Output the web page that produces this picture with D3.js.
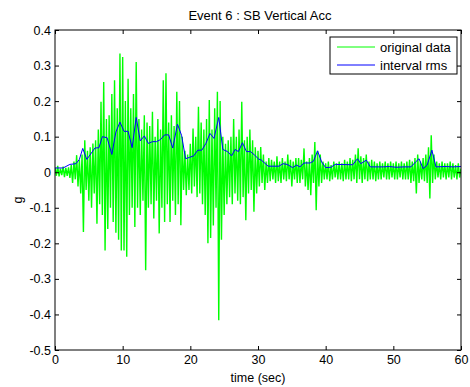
<!DOCTYPE html>
<html>
<head>
<meta charset="utf-8">
<script src="https://cdn.jsdelivr.net/npm/d3@7"></script>
<style>
  body { margin: 0; background: #fff; }
  text { font-family: "Liberation Sans", Arial, sans-serif; }
</style>
</head>
<body>
<div id="chart"></div>
<script>
// sample step of the raw trace (sec)
const dt = 0.2;

// raw acceleration (g), 2 s per row
const origData = [
  0.012,-0.010,0.018,-0.012,0.010,-0.008,0.016,-0.014,0.012,-0.010,
  0.014,-0.016,0.020,-0.030,0.030,-0.020,0.048,-0.040,0.035,-0.060,
  0.050,-0.168,0.090,-0.050,0.060,-0.080,0.070,-0.100,0.081,-0.060,
  0.090,-0.145,0.120,-0.090,0.198,-0.120,0.254,-0.220,0.150,-0.160,
  0.160,-0.100,0.220,-0.140,0.259,-0.170,0.180,-0.190,0.334,-0.220,
  0.324,-0.220,0.200,-0.238,0.263,-0.120,0.180,-0.100,0.220,-0.154,
  0.310,-0.100,0.150,-0.120,0.120,-0.080,0.160,-0.276,0.140,-0.100,
  0.130,-0.090,0.170,-0.130,0.100,-0.080,0.150,-0.172,0.120,-0.100,
  0.259,-0.140,0.278,-0.090,0.140,-0.140,0.160,-0.080,0.130,-0.120,
  0.226,-0.090,0.200,-0.149,0.100,-0.050,0.060,-0.065,0.050,-0.050,
  0.080,-0.060,0.123,-0.040,0.100,-0.070,0.184,-0.060,0.140,-0.090,
  0.120,-0.120,0.150,-0.200,0.203,-0.185,0.120,-0.150,0.180,-0.100,
  0.226,-0.416,0.200,-0.190,0.100,-0.120,0.080,-0.090,0.090,-0.070,
  0.100,-0.090,0.150,-0.060,0.100,-0.080,0.120,-0.090,0.198,-0.070,
  0.090,-0.135,0.100,-0.060,0.120,-0.050,0.090,-0.111,0.070,-0.060,
  0.060,-0.040,0.071,-0.030,0.050,-0.050,0.030,-0.030,0.040,-0.025,
  0.035,-0.020,0.030,-0.030,0.045,-0.025,0.030,-0.030,0.040,-0.020,
  0.030,-0.025,0.050,-0.020,0.035,-0.040,0.030,-0.020,0.040,-0.030,
  0.040,-0.030,0.035,-0.020,0.067,-0.040,0.030,-0.050,0.040,-0.065,
  0.050,-0.030,0.085,-0.107,0.060,-0.040,0.050,-0.030,0.030,-0.020,
  0.025,-0.020,0.030,-0.025,0.020,-0.020,0.030,-0.015,0.025,-0.020,
  0.030,-0.020,0.025,-0.025,0.035,-0.020,0.030,-0.020,0.040,-0.025,
  0.035,-0.020,0.050,-0.030,0.067,-0.020,0.045,-0.030,0.040,-0.020,
  0.050,-0.025,0.030,-0.020,0.035,-0.020,0.030,-0.025,0.025,-0.020,
  0.030,-0.020,0.025,-0.015,0.030,-0.020,0.025,-0.020,0.030,-0.015,
  0.025,-0.020,0.030,-0.020,0.025,-0.015,0.030,-0.020,0.025,-0.020,
  0.030,-0.020,0.035,-0.030,0.030,-0.025,0.040,-0.060,0.050,-0.030,
  0.030,-0.020,0.040,-0.025,0.050,-0.030,0.070,-0.074,0.104,-0.030,
  0.050,-0.020,0.030,-0.015,0.025,-0.020,0.030,-0.015,0.025,-0.020,
  0.025,-0.015,0.030,-0.020,0.025,-0.015,0.020,-0.020,0.025,-0.015,
  0.010
];

// interval rms
const rmsTime = [0,1.2,2.2,3.1,3.6,4.1,4.7,5.9,6.5,7.0,7.7,8.4,9.0,9.6,10.2,10.8,11.4,12.0,12.6,13.2,
  13.8,14.4,15.0,15.6,16.2,16.8,17.4,18.1,18.7,19.3,19.9,20.5,21.1,21.7,22.3,22.9,23.5,24.2,24.8,25.5,
  26.1,26.6,27.1,27.7,28.3,28.9,29.5,30.1,30.5,31.5,33.1,33.7,34.3,35.1,35.7,36.2,36.8,37.7,38.2,38.8,
  39.4,40.0,40.8,41.4,44.0,44.7,45.2,46.0,46.6,48.5,49.4,50.4,51.6,52.6,53.3,53.8,54.4,55.0,55.7,56.3,
  57.8,58.8,60];
const rmsValue = [0.012,0.012,0.022,0.024,0.036,0.067,0.036,0.068,0.069,0.100,0.097,0.050,0.113,0.141,0.115,0.115,0.069,0.154,0.088,0.102,
  0.081,0.086,0.086,0.092,0.105,0.105,0.068,0.135,0.104,0.038,0.042,0.046,0.062,0.062,0.081,0.109,0.095,0.154,0.064,0.058,
  0.046,0.064,0.058,0.083,0.058,0.058,0.048,0.037,0.034,0.017,0.017,0.024,0.022,0.013,0.020,0.015,0.026,0.026,0.031,0.060,
  0.029,0.013,0.014,0.022,0.021,0.038,0.024,0.034,0.015,0.015,0.016,0.014,0.015,0.015,0.029,0.038,0.010,0.020,0.062,0.015,
  0.016,0.015,0.016];

const xTicks = [0,10,20,30,40,50,60];
const yTicks = [-0.5,-0.4,-0.3,-0.2,-0.1,0,0.1,0.2,0.3,0.4];
const legendLabels = ["original data","interval rms"];
const colors = ["#00ff00","#0000ff"];

var margin = {top: 30, right: 9, bottom: 37, left: 55},
    width = 470 - margin.left - margin.right,
    height = 387 - margin.top - margin.bottom;

var svg = d3.select("#chart")
  .append("svg")
  .attr("width", 470)
  .attr("height", 387);

svg.append("rect").attr("width",470).attr("height",387).attr("fill","#fff");

var g = svg.append("g")
  .attr("transform", "translate(" + margin.left + "," + margin.top + ")");

var x = d3.scaleLinear().domain([0,60]).range([0,width]);
var y = d3.scaleLinear().domain([-0.5,0.4]).range([height,0]);

var yFmt = d => d === 0 ? "0" : d3.format(".1f")(d).replace("−","-");
var xFmt = d3.format("d");

g.append("defs").append("clipPath").attr("id","clip")
  .append("rect").attr("width",width).attr("height",height);

var line = d3.line().x(d => x(d[0])).y(d => y(d[1]));

g.append("path")
  .datum(origData.map((v,i) => [i*dt, v]))
  .attr("clip-path","url(#clip)")
  .attr("fill","none")
  .attr("stroke",colors[0])
  .attr("stroke-width",1.4)
  .attr("d", line);

g.append("path")
  .datum(rmsTime.map((t,i) => [t, rmsValue[i]]))
  .attr("fill","none")
  .attr("stroke",colors[1])
  .attr("stroke-width",1)
  .attr("d", line);

// axes, ticks pointing in like matlab
function styleAxis(sel){
  sel.select(".domain").remove();
  sel.selectAll("line").attr("stroke","#000");
  sel.selectAll("text").attr("fill","#000").attr("font-size","12.5px")
    .attr("font-family","Liberation Sans, Arial, sans-serif");
}

g.append("g").attr("transform","translate(0," + height + ")")
  .call(d3.axisBottom(x).tickValues(xTicks).tickSize(-4).tickPadding(5).tickFormat(xFmt))
  .call(styleAxis);
g.append("g")
  .call(d3.axisTop(x).tickValues(xTicks).tickSize(-4).tickFormat(""))
  .call(styleAxis);
g.append("g")
  .call(d3.axisLeft(y).tickValues(yTicks).tickSize(-4).tickPadding(4).tickFormat(yFmt))
  .call(styleAxis);
g.append("g").attr("transform","translate(" + width + ",0)")
  .call(d3.axisRight(y).tickValues(yTicks).tickSize(-4).tickFormat(""))
  .call(styleAxis);

g.append("rect")
  .attr("width",width).attr("height",height)
  .attr("fill","none").attr("stroke","#000").attr("stroke-width",1);

// title and labels
svg.append("text")
  .attr("x", margin.left + width/2 + 2).attr("y", 20)
  .attr("text-anchor","middle").attr("font-size","13px")
  .text("Event 6 : SB Vertical Acc");

svg.append("text")
  .attr("x", margin.left + width/2).attr("y", 382)
  .attr("text-anchor","middle").attr("font-size","12.5px")
  .text("time (sec)");

svg.append("text")
  .attr("transform","translate(22," + (margin.top + height/2 + 10) + ") rotate(-90)")
  .attr("text-anchor","middle").attr("font-size","12.5px")
  .text("g");

// legend
var lg = svg.append("g").attr("transform","translate(330,37)");
lg.append("rect").attr("width",127).attr("height",37)
  .attr("fill","#fff").attr("stroke","#000");
legendLabels.forEach((lab,i) => {
  lg.append("line")
    .attr("x1",7).attr("x2",45).attr("y1",10 + i*18).attr("y2",10 + i*18)
    .attr("stroke",colors[i]).attr("stroke-width",1);
  lg.append("text")
    .attr("x",50).attr("y",14.5 + i*18).attr("font-size","13px")
    .text(lab);
});
</script>
</body>
</html>
